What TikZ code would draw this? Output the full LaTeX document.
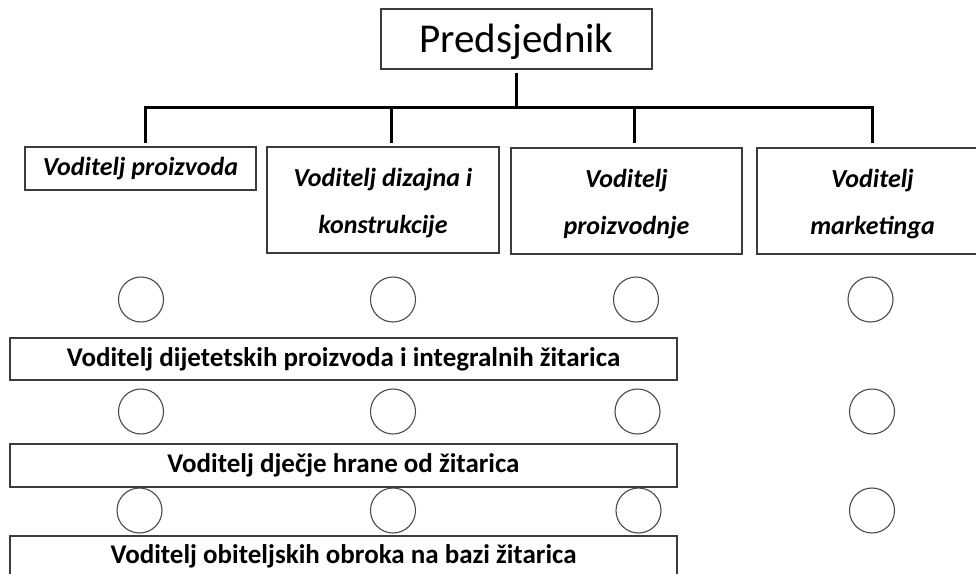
\documentclass[tikz,border=0pt]{standalone}
\usepackage{fontspec}
\setmainfont{Carlito}
\definecolor{boxgray}{HTML}{3C3C3C}
\definecolor{ringgray}{HTML}{4A4A4A}
\newcommand{\toppad}{\rule{0pt}{25pt}}
\begin{document}
\begin{tikzpicture}[x=1pt,y=-1pt,
  box/.style={draw=boxgray,line width=1.2pt,rectangle,inner sep=0pt,align=center},
  conn/.style={line width=3pt,black},
  ring/.style={draw=ringgray,line width=1.1pt,circle,minimum size=45pt,inner sep=0pt},
  mgr/.style={box,font=\fontsize{26}{47}\selectfont\bfseries\itshape},
  lead/.style={box,font=\fontsize{27}{30}\selectfont\bfseries,minimum width=667pt}]
\clip (0,0) rectangle (976,573);
\fill[white] (0,0) rectangle (976,573);

\node[box,minimum width=271pt,minimum height=60pt,font=\fontsize{41}{48}\selectfont] (pres) at (516.5,39) {\rule{0pt}{34pt}Predsjednik};

\node[mgr,minimum width=231pt,minimum height=43pt] (m1) at (140.5,168.5) {Voditelj proizvoda};
\node[mgr,minimum width=232pt,minimum height=106pt] (m2) at (383,200) {\toppad Voditelj dizajna i\\konstrukcije};
\node[mgr,minimum width=231pt,minimum height=106pt] (m3) at (626.5,201) {\toppad Voditelj\\proizvodnje};
\node[mgr,minimum width=231pt,minimum height=106pt] (m4) at (872.5,201) {\toppad Voditelj\\marketinga};

\coordinate (busL) at (145,107);
\coordinate (busR) at (872,107);
\coordinate (d1) at (145,143);
\coordinate (d2) at (391,143);
\coordinate (d3) at (634,143);
\coordinate (d4) at (872,143);

\draw[conn,shorten <=3pt] (pres.south) -- (pres.south |- busL);
\draw[conn] (d1) -- (busL) -- (busR) -- (d4);
\draw[conn] (d2 |- busL) -- (d2);
\draw[conn] (d3 |- busL) -- (d3);

\node[ring] (c11) at (141,299.5) {};
\node[ring] (c12) at (393,299.5) {};
\node[ring] (c13) at (636,299.5) {};
\node[ring] (c14) at (870.5,299.5) {};
\node[ring] (c21) at (141,411.5) {};
\node[ring] (c22) at (393,411.5) {};
\node[ring] (c23) at (637.5,411.5) {};
\node[ring] (c24) at (872,411.5) {};
\node[ring] (c31) at (139.5,510.5) {};
\node[ring] (c32) at (393,510.5) {};
\node[ring] (c33) at (638.5,510.5) {};
\node[ring] (c34) at (872,510.5) {};

\node[lead,minimum height=42pt] (l1) at (343.5,359) {Voditelj dijetetskih proizvoda i integralnih žitarica};
\node[lead,minimum height=43pt] (l2) at (343.5,465.5) {Voditelj dječje hrane od žitarica};
\node[lead,minimum height=40pt] (l3) at (343.5,556) {Voditelj obiteljskih obroka na bazi žitarica};
\end{tikzpicture}
\end{document}
